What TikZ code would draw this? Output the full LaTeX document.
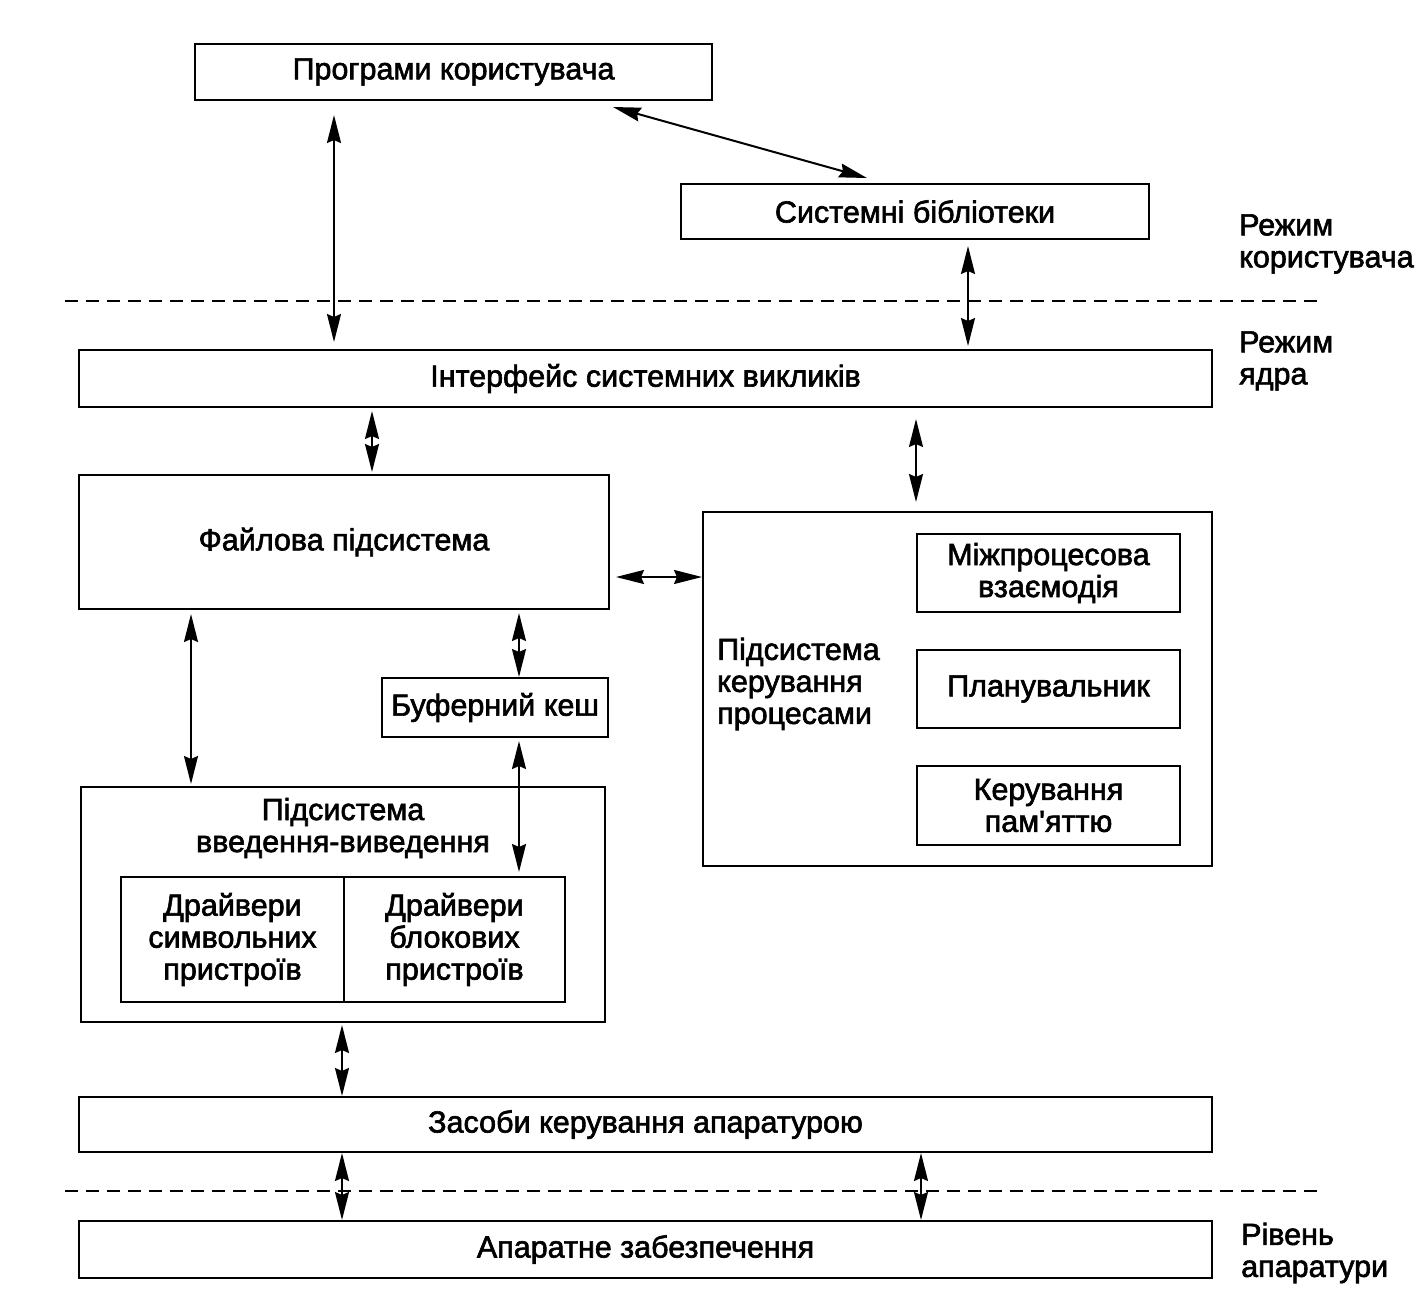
\documentclass[tikz,border=0pt]{standalone}
\usepackage{fontspec}
\setmainfont{Liberation Sans}[FakeBold=2]
\usetikzlibrary{arrows.meta}
\newcommand\dfont{\fontsize{30.5}{32}\selectfont}
\newcommand\sq{{\addfontfeatures{Ligatures=TeXOff}'}}
\begin{document}
\begin{tikzpicture}[x=1pt,y=-1pt,
  box/.style={draw,line width=2pt,inner sep=0pt,align=center,font=\dfont},
  lbl/.style={inner sep=0pt,align=left,font=\dfont},
  arr/.style={{Stealth[length=28pt,width=14pt,inset=3pt,fill=black]}-{Stealth[length=28pt,width=14pt,inset=3pt,fill=black]},line width=2pt},
  sep/.style={line width=1.8pt,dash pattern=on 13pt off 8pt}]
\useasboundingbox (0,0) rectangle (1425,1307);
% boxes
\node[box,minimum width=517pt,minimum height=56pt] (prog) at (453.5,72) {Програми користувача};
\node[box,minimum width=468pt,minimum height=55pt] (lib) at (915,211.5) {Системні бібліотеки};
\node[box,minimum width=1133pt,minimum height=57pt] (sci) at (645.5,378.5) {Інтерфейс системних викликів};
\node[box,minimum width=530pt,minimum height=134pt] (fs) at (344,542) {Файлова підсистема};
\node[box,minimum width=509pt,minimum height=354pt] (pm) at (957.5,689) {};
\node[lbl,anchor=west] (pmlabel) at (717,684) {Підсистема\\керування\\процесами};
\node[box,minimum width=263pt,minimum height=78pt] (ipc) at (1048.5,573) {Міжпроцесова\\взаємодія};
\node[box,minimum width=263pt,minimum height=78pt] (sched) at (1048.5,689) {Планувальник};
\node[box,minimum width=263pt,minimum height=79pt] (mem) at (1048.5,805.5) {Керування\\пам\sq яттю};
\node[box,minimum width=226pt,minimum height=59pt] (buf) at (495,707.5) {Буферний кеш};
\node[box,minimum width=524pt,minimum height=235pt] (io) at (343,904.5) {};
\node[lbl,align=center] (iotitle) at (343,828) {Підсистема\\введення-виведення};
\node[box,minimum width=223pt,minimum height=125pt] (chr) at (232.5,939.5) {Драйвери\\символьних\\пристроїв};
\node[box,minimum width=221pt,minimum height=125pt] (blk) at (454.5,939.5) {Драйвери\\блокових\\пристроїв};
\node[box,minimum width=1133pt,minimum height=55pt] (hw) at (645.5,1124.5) {Засоби керування апаратурою};
\node[box,minimum width=1133pt,minimum height=57pt] (app) at (645.5,1249.5) {Апаратне забезпечення};
% mode labels
\node[lbl,anchor=west] (um) at (1239,244) {Режим\\користувача};
\node[lbl,anchor=west] (km) at (1239,361) {Режим\\ядра};
\node[lbl,anchor=west] (hl) at (1241,1253) {Рівень\\апаратури};
% dashed separators
\coordinate (d1a) at (65,301); \coordinate (d1b) at (1320,301);
\coordinate (d2a) at (65,1191); \coordinate (d2b) at (1320,1191);
\draw[sep] (d1a) -- (d1b);
\draw[sep] (d2a) -- (d2b);
% arrow columns
\coordinate (c1) at (334,0);
\coordinate (c2) at (968,0);
\coordinate (c3) at (372,0);
\coordinate (c4) at (916,0);
\coordinate (c5) at (191,0);
\coordinate (c6) at (519,0);
\coordinate (c7) at (342,0);
\coordinate (c8) at (921,0);
\coordinate (r1) at (0,577);
% arrows
\draw[arr,shorten <=14pt,shorten >=7pt] (prog.south -| c1) -- (sci.north -| c1);
\draw[arr] ([xshift=-100pt,yshift=-6pt]prog.south east) -- ([xshift=187pt,yshift=5pt]lib.north west);
\draw[arr,shorten <=6pt,shorten >=3pt] (lib.south -| c2) -- (sci.north -| c2);
\draw[arr,shorten <=3pt,shorten >=2pt] (sci.south -| c3) -- (fs.north -| c3);
\draw[arr,shorten <=11pt,shorten >=9pt] (sci.south -| c4) -- (pm.north -| c4);
\draw[arr,shorten <=6pt] (fs.east |- r1) -- (pm.west |- r1);
\draw[arr,shorten <=4pt,shorten >=2pt] (fs.south -| c5) -- (io.north -| c5);
\draw[arr,shorten <=3pt] (fs.south -| c6) -- (buf.north -| c6);
\draw[arr,shorten <=3pt,shorten >=4pt] (buf.south -| c6) -- (blk.north -| c6);
\draw[arr,shorten <=2pt] (io.south -| c7) -- (hw.north -| c7);
\draw[arr] (hw.south -| c7) -- (app.north -| c7);
\draw[arr] (hw.south -| c8) -- (app.north -| c8);
\end{tikzpicture}
\end{document}
